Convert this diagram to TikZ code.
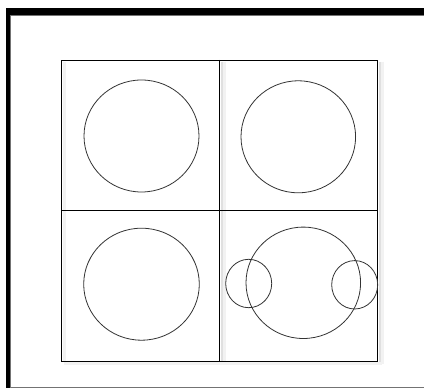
\documentclass[tikz,border=0pt]{standalone}
\begin{document}
\begin{tikzpicture}[x=1pt,y=-1pt,
  gridline/.style={draw=black,line width=0.85pt},
  ring/.style={draw=black!80,line width=0.8pt},
  shadowA/.style={draw=black!12,line width=2pt},
  shadowB/.style={draw=black!5,line width=3pt}]
\useasboundingbox (0,0) rectangle (424,390);
\fill[white] (0,0) rectangle (424,390);
% outer frame
\fill[black] (6,8) rectangle (424,15);
\fill[black] (6,8) rectangle (9.5,388);
\draw[black!55,line width=0.8pt] (9.5,15.3) -- (424,15.3);
\draw[black!55,line width=0.8pt] (10,15) -- (10,388);
\draw[black!55,line width=1pt] (9.5,387.5) -- (424,387.5);
% soft shadows of the grid
\draw[shadowB] (382,62) -- (382,364);
\draw[shadowA] (379.5,62) -- (379.5,363);
\draw[shadowB] (64,364) -- (382,364);
\draw[shadowB] (224,62) -- (224,361);
\draw[shadowA] (221.5,62) -- (221.5,361);
\draw[shadowB] (64,62) -- (64,361);
% grid
\coordinate (tl) at (61,60);
\coordinate (br) at (377.5,361);
\draw[gridline] (tl) rectangle (br);
\coordinate (mt) at (219.5,60);
\coordinate (mb) at (219.5,361);
\coordinate (ml) at (61,210.5);
\coordinate (mr) at (377.5,210.5);
\draw[gridline] (mt) -- (mb);
\draw[gridline] (ml) -- (mr);
% circles
\draw[ring] (141.5,136) ellipse [x radius=57.5,y radius=56];
\draw[ring] (298.3,136.8) ellipse [x radius=57.3,y radius=56];
\draw[ring] (141.5,284.2) ellipse [x radius=57.8,y radius=56];
\draw[ring] (303.3,282.8) ellipse [x radius=57.3,y radius=55.7];
\draw[ring] (248.7,283.5) ellipse [x radius=23,y radius=24.2];
\draw[ring] (354.7,284.8) ellipse [x radius=23,y radius=24.2];
\end{tikzpicture}
\end{document}
